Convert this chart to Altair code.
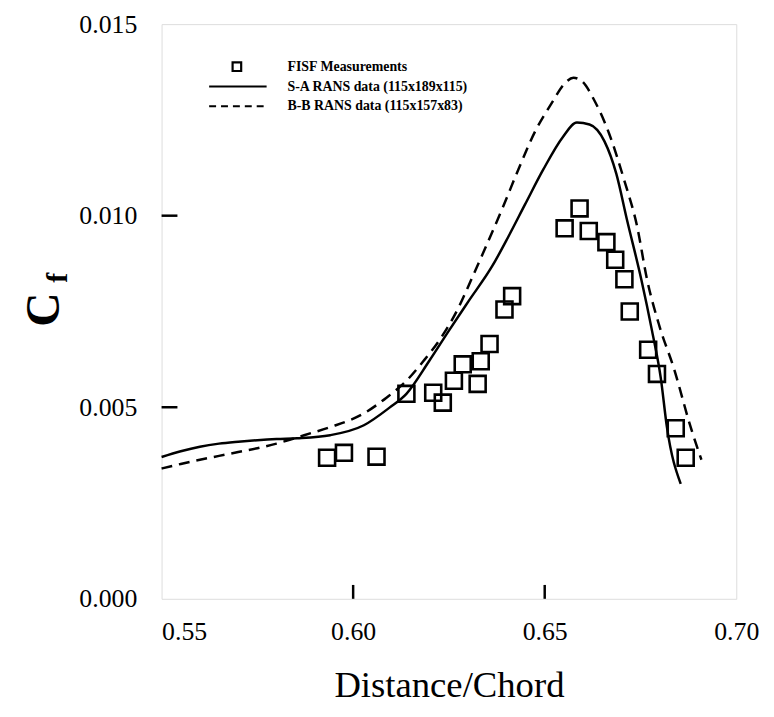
import altair as alt
import pandas as pd

# FISF measurements
meas_x = [0.5932, 0.5976, 0.6061, 0.6139, 0.6209, 0.6234, 0.6263, 0.6286, 0.6325, 0.6333,
          0.6356, 0.6395, 0.6415, 0.6552, 0.6591, 0.6615, 0.6661, 0.6684, 0.6708, 0.6722,
          0.6770, 0.6793, 0.6842, 0.6868]
meas_y = [0.00368, 0.00381, 0.00371, 0.00535, 0.00538, 0.00512, 0.00569, 0.00612, 0.00561, 0.00620,
          0.00665, 0.00755, 0.00790, 0.00967, 0.01019, 0.00960, 0.00931, 0.00885, 0.00834, 0.00750,
          0.00650, 0.00587, 0.00445, 0.00368]

# S-A RANS
sa_x = [0.55, 0.555, 0.56, 0.565, 0.57, 0.575, 0.58, 0.5854, 0.594, 0.6028, 0.6095, 0.6139,
        0.6198, 0.625, 0.63, 0.6364, 0.6405, 0.6449, 0.6496, 0.6547, 0.6584, 0.6617, 0.6656,
        0.6687, 0.6715, 0.6752, 0.678, 0.6803, 0.6819, 0.6855]
sa_y = [0.0037, 0.00385, 0.00397, 0.00405, 0.0041, 0.00414, 0.00417, 0.00419, 0.00427, 0.00453,
        0.00499, 0.00535, 0.0062, 0.0070, 0.00775, 0.0087, 0.00945, 0.0103, 0.0112, 0.01205,
        0.01243, 0.01238, 0.01194, 0.01109, 0.00988, 0.00834, 0.0070, 0.00576, 0.00448, 0.00300]

# B-B RANS
bb_x = [0.55, 0.555, 0.56, 0.565, 0.57, 0.575, 0.58, 0.5872, 0.594, 0.6028, 0.6087, 0.6139,
        0.6183, 0.6235, 0.6275, 0.6307, 0.6338, 0.639, 0.6431, 0.6475, 0.6519, 0.6552, 0.6575,
        0.6596, 0.663, 0.6669, 0.6708, 0.6741, 0.6767, 0.68, 0.6837, 0.6881, 0.6909]
bb_y = [0.0034, 0.00352, 0.00363, 0.00373, 0.00383, 0.00393, 0.00405, 0.00427, 0.00448, 0.00484,
        0.00525, 0.00569, 0.0062, 0.0069, 0.0076, 0.0083, 0.0090, 0.0102, 0.0112, 0.0122,
        0.01295, 0.01345, 0.0136, 0.01352, 0.0130, 0.01212, 0.01091, 0.00973, 0.00834, 0.0071,
        0.00602, 0.00448, 0.00363]

x_ticks = [0.55, 0.60, 0.65, 0.70]
y_ticks = [0.000, 0.005, 0.010, 0.015]
x_inner = [0.60, 0.65]
y_inner = [0.005, 0.010]

legend_labels = ["FISF Measurements", "S-A RANS data (115x189x115)", "B-B RANS data (115x157x83)"]

W, H = 580, 580
FONT = "Liberation Serif"

meas = pd.DataFrame({"x": meas_x, "y": meas_y})
sa = pd.DataFrame({"x": sa_x, "y": sa_y})
bb = pd.DataFrame({"x": bb_x, "y": bb_y})

xs = alt.Scale(domain=[0.55, 0.70], nice=False, zero=False)
ys = alt.Scale(domain=[0.0, 0.015], nice=False, zero=False)

xax = alt.Axis(values=x_ticks, format=".2f", tickSize=0, domain=False, grid=False,
               labelFont=FONT, labelFontSize=26, labelColor="black", labelPadding=20,
               labelFlush=False,
               labelAlign=alt.ExprRef(expr="datum.value < 0.56 ? 'left' : 'center'"),
               title="Distance/Chord", titleFont=FONT, titleFontSize=37,
               titleFontWeight="normal", titleColor="black", titlePadding=24)
yax = alt.Axis(values=y_ticks, format=".3f", tickSize=0, domain=False, grid=False,
               labelFont=FONT, labelFontSize=26, labelColor="black", labelPadding=25,
               title=None)

sa_line = alt.Chart(sa).mark_line(color="black", strokeWidth=2.5, interpolate="monotone").encode(
    x=alt.X("x:Q", scale=xs, axis=xax), y=alt.Y("y:Q", scale=ys, axis=yax))
bb_line = alt.Chart(bb).mark_line(color="black", strokeWidth=2.5, strokeDash=[11, 7],
                                  interpolate="monotone").encode(
    x=alt.X("x:Q", scale=xs), y=alt.Y("y:Q", scale=ys))
pts = alt.Chart(meas).mark_point(shape="square", size=260, filled=False, color="black",
                                 strokeWidth=2.6, opacity=1).encode(
    x=alt.X("x:Q", scale=xs), y=alt.Y("y:Q", scale=ys))

xt = alt.Chart(pd.DataFrame({"v": x_inner})).mark_rule(color="black", strokeWidth=2.5).encode(
    x=alt.X("v:Q", scale=xs), y=alt.value(H), y2=alt.value(H - 14))
yt = alt.Chart(pd.DataFrame({"v": y_inner})).mark_rule(color="black", strokeWidth=2.5).encode(
    y=alt.Y("v:Q", scale=ys), x=alt.value(0), x2=alt.value(16))

# y-axis title "C_f"
c_txt = alt.Chart(pd.DataFrame({"t": ["C"]})).mark_text(
    font=FONT, fontSize=48, fontWeight="bold", angle=270, color="black",
    align="center", baseline="middle").encode(text="t:N", x=alt.value(-118), y=alt.value(288))
f_txt = alt.Chart(pd.DataFrame({"t": ["f"]})).mark_text(
    font=FONT, fontSize=30, fontWeight="bold", angle=270, color="black",
    align="center", baseline="middle").encode(text="t:N", x=alt.value(-104), y=alt.value(256))

# legend
leg_sq = alt.Chart(pd.DataFrame({"t": [legend_labels[0]]})).mark_point(
    shape="square", size=75, filled=False, color="black", strokeWidth=2.2, opacity=1).encode(
    x=alt.value(76), y=alt.value(43))
leg_sa = alt.Chart(pd.DataFrame({"t": [legend_labels[1]]})).mark_rule(
    color="black", strokeWidth=2).encode(x=alt.value(48), x2=alt.value(106), y=alt.value(63))
leg_bb = alt.Chart(pd.DataFrame({"t": [legend_labels[2]]})).mark_rule(
    color="black", strokeWidth=2, strokeDash=[7, 5]).encode(
    x=alt.value(48), x2=alt.value(106), y=alt.value(83))
leg_txt = alt.Chart(pd.DataFrame({"t": legend_labels, "yy": [43, 63, 83]})).mark_text(
    font=FONT, fontSize=14, fontWeight="bold", color="black", align="left",
    baseline="middle").encode(text="t:N", x=alt.value(127), y=alt.Y("yy:Q", scale=None))

chart = alt.layer(sa_line, bb_line, pts, xt, yt, c_txt, f_txt, leg_sq, leg_sa, leg_bb, leg_txt
).properties(
    width=W, height=H,
    autosize=alt.AutoSizeParams(type="none"),
    padding={"left": 155, "top": 13, "right": 30, "bottom": 115},
).configure_view(stroke="black", strokeWidth=2.5).configure(background="white")

chart.save("out.html", embed_options={"renderer": "svg", "actions": False})
